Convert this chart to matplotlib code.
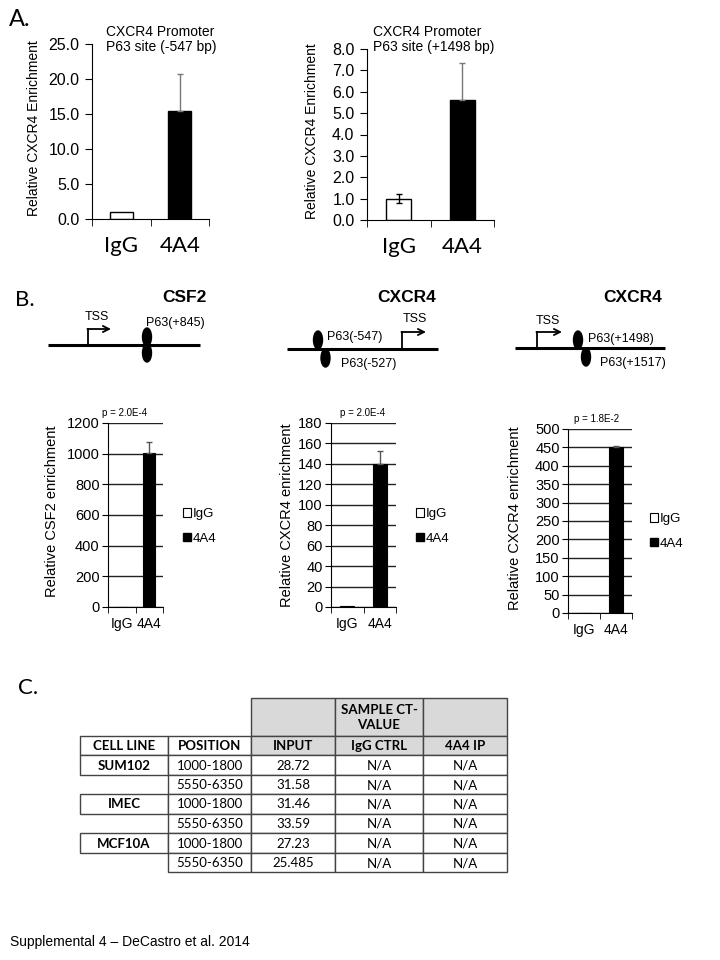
import matplotlib.pyplot as plt
import matplotlib.patches as mpatches
import numpy as np

plt.rcParams['font.family'] = ['Liberation Sans', 'DejaVu Sans']
CAL = ['Lato', 'DejaVu Sans']

# ---- data ----
groups = ['IgG', '4A4']

a1_vals = [1.0, 15.4]
a1_err = [[0, 0], [0, 5.3]]          # lower, upper
a2_vals = [1.0, 5.6]
a2_err = [[0.22, 0], [0.22, 1.75]]

b1_vals = [2, 1005]
b1_err = [0, 68]
b2_vals = [1, 140]
b2_err = [0, 13]
b3_vals = [1, 452]
b3_err = [0, 3]
b_pvals = ['p = 2.0E-4', 'p = 2.0E-4', 'p = 1.8E-2']

tbl_head = ['CELL LINE', 'POSITION', 'INPUT', 'IgG CTRL', '4A4 IP']
tbl_cell = ['SUM102', '', 'IMEC', '', 'MCF10A', '']
tbl_pos = ['1000-1800', '5550-6350', '1000-1800', '5550-6350', '1000-1800', '5550-6350']
tbl_input = ['28.72', '31.58', '31.46', '33.59', '27.23', '25.485']
tbl_igg = ['N/A'] * 6
tbl_4a4 = ['N/A'] * 6

W, H = 720, 960
fig = plt.figure(figsize=(7.2, 9.6), dpi=100)


def box(l, t, r, b):
    return [l / W, 1 - b / H, (r - l) / W, (b - t) / H]


def ftxt(x, y, s, **kw):
    fig.text(x / W, 1 - y / H, s, **kw)


def bar_a(rect, vals, err, ymax, ystep, title, tx, ylab, lx):
    ax = fig.add_axes(box(*rect))
    x = np.arange(len(groups))
    ax.bar(x, vals, width=0.4, color=['white', 'black'], edgecolor='black', linewidth=1, zorder=2)
    ecols = ['black', '#777777']
    for i in x:
        if err[1][i] > 0:
            ax.errorbar(i, vals[i], yerr=[[err[0][i]], [err[1][i]]], fmt='none',
                        ecolor=ecols[i], elinewidth=1, capsize=2.2, capthick=1, zorder=3)
    ax.set_xlim(-0.5, 1.5)
    ax.set_ylim(0, ymax)
    ax.set_yticks(np.arange(0, ymax + ystep / 2, ystep))
    ax.set_yticklabels(['%.1f' % v for v in np.arange(0, ymax + ystep / 2, ystep)], fontsize=11.5)
    ax.set_xticks(x)
    ax.set_xticklabels(groups, fontsize=16, family=CAL)
    ax.set_xticks([-0.5, 0.5, 1.5], minor=True)
    ax.tick_params(axis='x', which='major', length=0, pad=12)
    ax.tick_params(axis='x', which='minor', length=5, direction='out')
    ax.tick_params(axis='y', length=5, direction='out', pad=4)
    for s in ['top', 'right']:
        ax.spines[s].set_visible(False)
    ftxt(tx, 25, title, fontsize=10, va='top', linespacing=1.1)
    ftxt(lx, (rect[1] + rect[3]) / 2 - 3, ylab, fontsize=10, rotation=90, ha='center', va='center')
    return ax


bar_a((92, 44, 209, 219), a1_vals, a1_err, 25, 5, 'CXCR4 Promoter\nP63 site (-547 bp)', 106,
      'Relative CXCR4 Enrichment', 34)
bar_a((367, 49, 494, 220), a2_vals, a2_err, 8, 1, 'CXCR4 Promoter\nP63 site (+1498 bp)', 373,
      'Relative CXCR4 Enrichment', 312)


def bar_b(rect, vals, err, ymax, ystep, ptxt, px, ylab, lx, ly, legx, legy):
    ax = fig.add_axes(box(*rect))
    x = np.arange(len(groups))
    ax.bar(x, vals, width=0.42, color=['white', 'black'], edgecolor='black', linewidth=0.8, zorder=2)
    if err[1] > 0:
        ax.errorbar(1, vals[1], yerr=[[0], [err[1]]], fmt='none', ecolor='#555555',
                    elinewidth=1, capsize=2.5, capthick=1, zorder=3)
    ax.set_xlim(-0.5, 1.5)
    ax.set_ylim(0, ymax)
    ax.set_yticks(np.arange(0, ymax + 1, ystep))
    ax.yaxis.grid(True, color='#222222', linewidth=1)
    ax.set_axisbelow(True)
    ax.tick_params(axis='y', labelsize=10.5, length=4, pad=2)
    ax.set_xticks(x)
    ax.set_xticklabels(groups, fontsize=10)
    ax.set_xticks([-0.5, 0.5, 1.5], minor=True)
    ax.tick_params(axis='x', which='major', length=0, pad=7)
    ax.tick_params(axis='x', which='minor', length=4)
    for s in ['top', 'right']:
        ax.spines[s].set_visible(False)
    ftxt(px, rect[1] - 10, ptxt, fontsize=7, ha='center', va='center')
    ftxt(lx, ly, ylab, fontsize=10.5, rotation=90, ha='center', va='center')
    handles = [mpatches.Patch(facecolor='white', edgecolor='black', linewidth=0.8),
               mpatches.Patch(facecolor='black', edgecolor='black')]
    fig.legend(handles, groups, loc='upper left', bbox_to_anchor=(legx / W, 1 - legy / H),
               frameon=False, fontsize=9.5, handlelength=0.6, handleheight=0.6,
               handletextpad=0.15, labelspacing=0.95, borderpad=0, borderaxespad=0)
    return ax


bar_b((108, 423, 163, 607), b1_vals, b1_err, 1200, 200, b_pvals[0], 125,
      'Relative CSF2 enrichment', 52, 511, 183, 508)
bar_b((331, 423, 396, 607), b2_vals, b2_err, 180, 20, b_pvals[1], 363,
      'Relative CXCR4 enrichment', 287, 515, 416, 508)
bar_b((568, 429, 632, 613), b3_vals, b3_err, 500, 50, b_pvals[2], 597,
      'Relative CXCR4 enrichment', 515, 518, 650, 513)

# ---- overlay for diagrams, table and labels ----
ov = fig.add_axes([0, 0, 1, 1])
ov.set_xlim(0, W)
ov.set_ylim(H, 0)
ov.axis('off')


def gene(x0, x1, y, tss_x, tss_top, tss_end, tss_lbl, sites, name, name_xy):
    ov.plot([x0, x1], [y, y], color='black', lw=2.2, solid_capstyle='butt')
    ov.plot([tss_x, tss_x], [y, tss_top], color='black', lw=1.3)
    ov.annotate('', xy=(tss_end, tss_top), xytext=(tss_x - 0.6, tss_top),
                arrowprops=dict(arrowstyle='->', lw=1.3, color='black',
                                shrinkA=0, shrinkB=0, mutation_scale=11))
    ov.text(tss_lbl[0], tss_lbl[1], 'TSS', fontsize=9, ha='center', va='center')
    for sx, sy, lbl, lxy in sites:
        ov.add_patch(mpatches.Ellipse((sx, sy), 9, 18, facecolor='black', edgecolor='black'))
        if lbl:
            ov.text(lxy[0], lxy[1], lbl, fontsize=9, ha='left', va='center')
    ov.text(name_xy[0], name_xy[1], name, fontsize=12.5, fontweight='bold', ha='center', va='center')


gene(48, 200, 345, 88, 329, 111, (97, 317),
     [(147, 337, 'P63(+845)', (146, 323)), (147, 353, '', None)],
     'CSF2', (184, 298))
gene(287, 438, 349, 402, 332, 426, (415, 319),
     [(318, 340, 'P63(-547)', (327, 337)), (325.5, 358, 'P63(-527)', (341, 364))],
     'CXCR4', (407, 297))
gene(515, 665, 348, 537, 332, 562, (548, 321),
     [(578, 340, 'P63(+1498)', (588, 339)), (586, 357, 'P63(+1517)', (600, 363))],
     'CXCR4', (633, 298))

ov.text(9, 19, 'A.', fontsize=17, family=CAL, va='center', ha='left')
ov.text(15, 300, 'B.', fontsize=16, family=CAL, va='center', ha='left')
ov.text(18, 688, 'C.', fontsize=16, family=CAL, va='center', ha='left')

# ---- table ----
cx = [80, 168, 251, 335, 423, 507]
ry = [698, 736, 755, 775, 794, 814, 833, 853, 872]
grey = '#d9d9d9'
edge = '#444444'


def cell(c, r0, r1, txt, fill='white', bold=False, border=True):
    if border:
        ov.add_patch(mpatches.Rectangle((cx[c], ry[r0]), cx[c + 1] - cx[c], ry[r1] - ry[r0],
                                        facecolor=fill, edgecolor=edge, linewidth=1))
    if txt:
        ov.text((cx[c] + cx[c + 1]) / 2, (ry[r0] + ry[r1]) / 2 + 0.5, txt, fontsize=9.5,
                family=CAL, fontweight='bold' if bold else 'normal',
                ha='center', va='center', linespacing=1.35)


cell(2, 0, 1, '', grey)
cell(3, 0, 1, 'SAMPLE CT-\nVALUE', grey, bold=True)
cell(4, 0, 1, '', grey)
for c, h in enumerate(tbl_head):
    cell(c, 1, 2, h, grey if c >= 2 else 'white', bold=True)
for r in range(len(tbl_pos)):
    cell(0, r + 2, r + 3, tbl_cell[r], bold=True, border=tbl_cell[r] != '')
    cell(1, r + 2, r + 3, tbl_pos[r])
    cell(2, r + 2, r + 3, tbl_input[r])
    cell(3, r + 2, r + 3, tbl_igg[r])
    cell(4, r + 2, r + 3, tbl_4a4[r])

ov.text(10, 942, 'Supplemental 4 \u2013 DeCastro et al. 2014', fontsize=10, va='center', ha='left')

fig.savefig('out.png', dpi=100)
